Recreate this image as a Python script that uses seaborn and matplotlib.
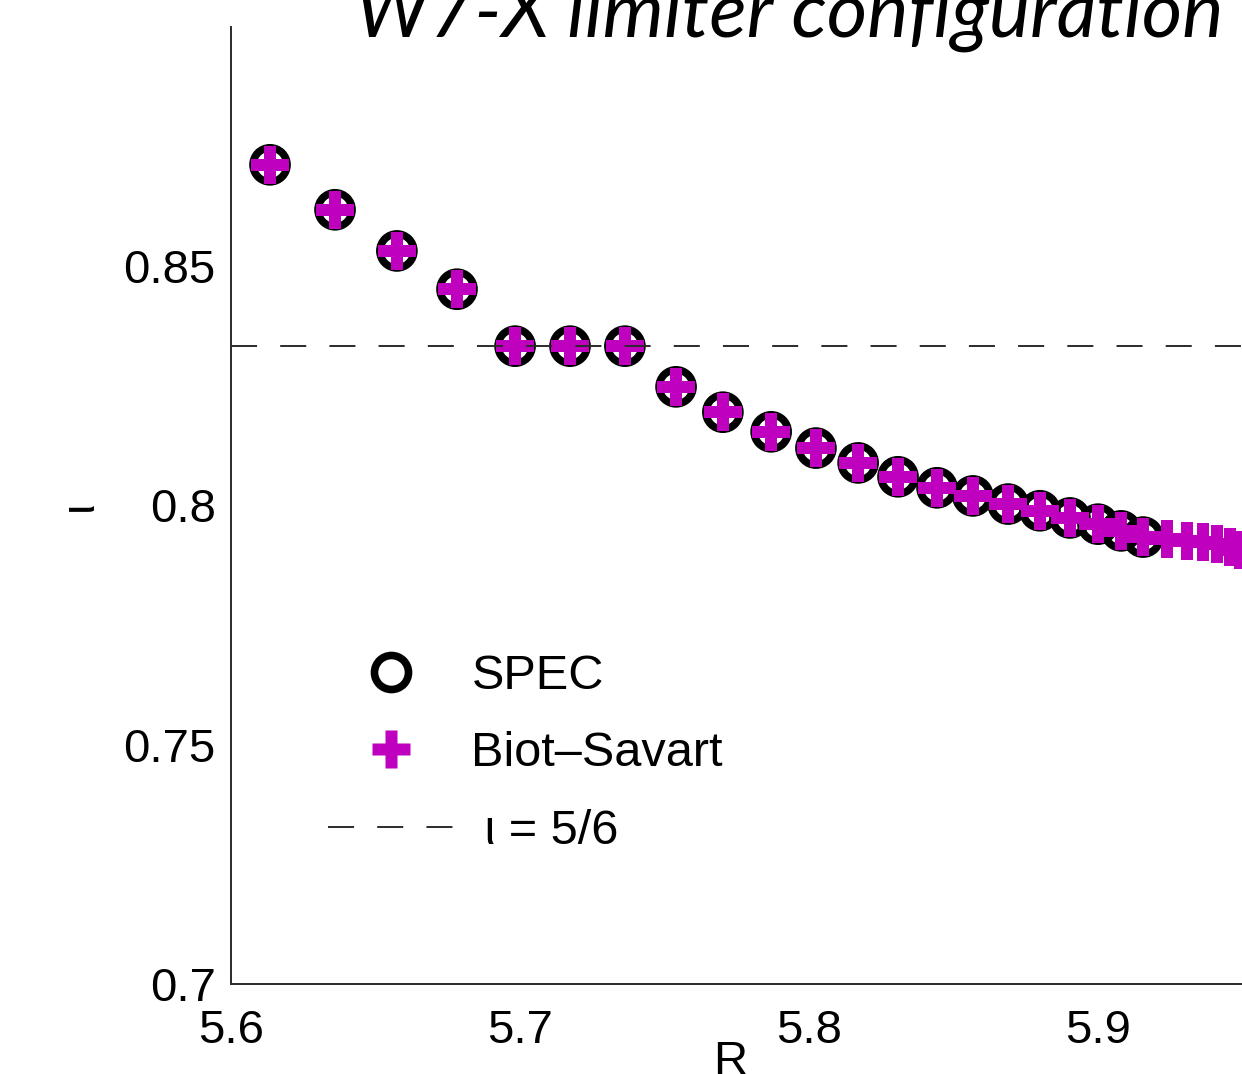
import numpy as np
import pandas as pd
import matplotlib
matplotlib.use("Agg")
import matplotlib.pyplot as plt
import seaborn as sns
from matplotlib.lines import Line2D

# Rotational transform profile across the major radius
R_spec = [5.6135, 5.6360, 5.6574, 5.6782, 5.6983, 5.7173, 5.7363, 5.7540,
          5.7702, 5.7869, 5.8024, 5.8170, 5.8308, 5.8443, 5.8567, 5.8689,
          5.8799, 5.8903, 5.9000, 5.9080, 5.9156]
iota_spec = [0.8712, 0.8618, 0.8532, 0.8452, 0.8333, 0.8333, 0.8333, 0.8248,
             0.8195, 0.8154, 0.8120, 0.8089, 0.8060, 0.8037, 0.8020, 0.8003,
             0.7989, 0.7974, 0.7961, 0.7947, 0.7934]

R_bs_outer = [5.9239, 5.9308, 5.9363, 5.9412, 5.9457, 5.9491]
iota_bs_outer = [0.7930, 0.7926, 0.7924, 0.7920, 0.7914, 0.7907]
R_bs = R_spec + R_bs_outer
iota_bs = iota_spec + iota_bs_outer

iota_resonant = 5 / 6

x_ticks = [5.6, 5.7, 5.8, 5.9]
x_ticklabels = ["5.6", "5.7", "5.8", "5.9"]
y_ticks = [0.7, 0.75, 0.8, 0.85]
y_ticklabels = ["0.7", "0.75", "0.8", "0.85"]

legend_labels = ["SPEC", "Biot\u2013Savart", " \u03b9 = 5/6"]

MAGENTA = "#BF00BF"
AXIS_GRAY = "#2b2b2b"
DASH = (0, (13.4, 11.9))

sns.set_theme(style="white")
plt.rcParams["font.family"] = ["Liberation Sans", "DejaVu Sans"]
plt.rcParams["text.color"] = "black"
plt.rcParams["axes.labelcolor"] = "black"

fig = plt.figure(figsize=(12.42, 10.74), dpi=100)
ax = fig.add_axes([231 / 1242, 90 / 1074, 1156 / 1242, 957 / 1074])

spec_df = pd.DataFrame({"R": R_spec, "iota": iota_spec})
bs_df = pd.DataFrame({"R": R_bs, "iota": iota_bs})

sns.scatterplot(data=spec_df, x="R", y="iota", ax=ax, marker="o", s=600,
                facecolors="none", edgecolor="black", linewidth=5.5, zorder=2,
                legend=False)
sns.scatterplot(data=bs_df, x="R", y="iota", ax=ax, marker="P", s=720,
                color=MAGENTA, linewidth=0, zorder=3, legend=False)
ax.axhline(iota_resonant, color=AXIS_GRAY, lw=1.4, ls=DASH, zorder=4)

ax.set_xlim(5.6, 6.0)
ax.set_ylim(0.7, 0.9)
ax.set_xticks(x_ticks)
ax.set_xticklabels(x_ticklabels)
ax.set_yticks(y_ticks)
ax.set_yticklabels(y_ticklabels)
ax.tick_params(axis="both", direction="in", length=8, width=1.2,
               color=AXIS_GRAY, labelsize=34, labelcolor="black")
ax.tick_params(axis="x", pad=18)
ax.tick_params(axis="y", pad=11)

for side in ["top", "right"]:
    ax.spines[side].set_visible(False)
for side in ["left", "bottom"]:
    ax.spines[side].set_color(AXIS_GRAY)
    ax.spines[side].set_linewidth(1.4)

ax.set_xlabel("R", fontsize=34, color="black")
ax.xaxis.set_label_coords((730 - 231) / 1156, -0.058)
ax.set_ylabel("\u03b9", fontsize=34, color="black")
ax.yaxis.set_label_coords(-0.112, 0.5)

handles = [
    Line2D([], [], ls="none", marker="o", ms=24.5, mfc="none", mec="black", mew=5.5),
    Line2D([], [], ls="none", marker="P", ms=26.8, mfc=MAGENTA, mec="none"),
    Line2D([], [], color=AXIS_GRAY, lw=1.4, ls=DASH),
]
leg = ax.legend(handles, legend_labels, loc="center left",
                bbox_to_anchor=((328 - 231) / 1156, (984 - 754) / 957),
                frameon=False, fontsize=35, handlelength=2.6, handletextpad=0.35,
                labelspacing=0.66, borderpad=0, borderaxespad=0)
for txt in leg.get_texts():
    txt.set_color("black")

fig.text(355 / 1242, 1 - 37 / 1074, "W7-X limiter configuration",
         family=["Lato", "DejaVu Sans"], style="italic", fontsize=56,
         color="black", ha="left", va="baseline")

fig.savefig("out.png", dpi=100)
